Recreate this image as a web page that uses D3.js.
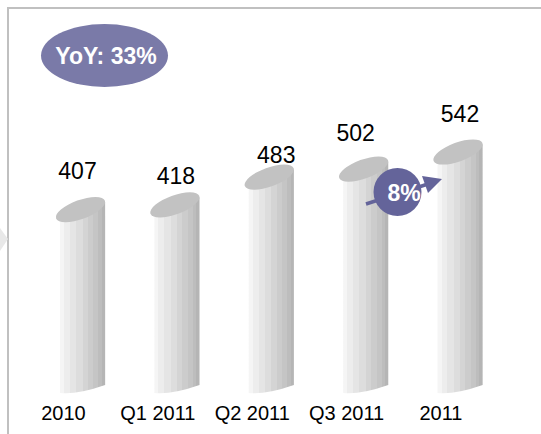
<!DOCTYPE html>
<html>
<head>
<meta charset="utf-8">
<script src="https://cdn.jsdelivr.net/npm/d3@7"></script>
<style>
  html, body { margin: 0; padding: 0; background: #fff; }
  svg { display: block; }
</style>
</head>
<body>
<svg id="chart" width="541" height="434"></svg>
<script>
// ---- data ----
const categories = ["2010", "Q1 2011", "Q2 2011", "Q3 2011", "2011"];
const values = [407, 418, 483, 502, 542];
const valueLabels = ["407", "418", "483", "502", "542"];
const yoyLabel = "YoY: 33%";
const qoqLabel = "8%";

// ---- layout nudges (not data) ----
const labelDx = [-3, 1, 7, -8, 2];
const labelGap = [30.5, 20.5, 14.5, 28, 30];

const svg = d3.select("#chart");
const font = "'Liberation Sans', Arial, Helvetica, sans-serif";

// frame
svg.append("line").attr("x1", 8).attr("y1", 8).attr("x2", 541).attr("y2", 8)
  .attr("stroke", "#c0c0c0").attr("stroke-width", 2);
svg.append("line").attr("x1", 8).attr("y1", 7).attr("x2", 8).attr("y2", 434)
  .attr("stroke", "#c0c0c0").attr("stroke-width", 2);
svg.append("path").attr("d", "M0,228 L8,239 L0,251 Z").attr("fill", "#e8e8e8");

// scales
const x = d3.scalePoint().domain(categories).range([80.5, 458]);
const y = d3.scaleLinear().domain([0, 542]).range([383, 152]);
const baseY = 389;

// gradient for bodies (stepped stripes)
const defs = svg.append("defs");
const stripes = [
  [0.00, "#f5f5f5"], [0.09, "#ededed"], [0.22, "#e5e5e5"], [0.36, "#dddddd"],
  [0.50, "#d4d4d4"], [0.62, "#cccccc"], [0.74, "#c5c5c5"], [0.85, "#bdbdbd"],
  [0.93, "#b5b5b5"], [1.00, "#b5b5b5"]
];
const grad = defs.append("linearGradient").attr("id", "body")
  .attr("x1", "0").attr("x2", "1").attr("y1", "0").attr("y2", "0");
for (let i = 0; i < stripes.length - 1; i++) {
  grad.append("stop").attr("offset", stripes[i][0]).attr("stop-color", stripes[i][1]);
  grad.append("stop").attr("offset", stripes[i + 1][0]).attr("stop-color", stripes[i][1]);
}

// ellipse geometry
const rx = 26, ry = 9.5, ang = -20;
const th = ang * Math.PI / 180;
const hw = Math.sqrt(rx * rx * Math.cos(th) ** 2 + ry * ry * Math.sin(th) ** 2);
const slope = ((rx * rx - ry * ry) * Math.sin(-th) * Math.cos(th) / hw) / hw;

const bars = svg.append("g");
categories.forEach((c, i) => {
  const cx = x(c), cy = y(values[i]);
  const xl = cx - 20.5, xr = cx + hw;
  const p = d3.path();
  p.moveTo(xl, cy + slope * 20.5);
  p.lineTo(xr, cy - slope * hw);
  p.lineTo(xr, baseY - 4);
  p.quadraticCurveTo(cx - 4, baseY + 6, xl, baseY + 4);
  p.closePath();
  bars.append("path").attr("d", p.toString()).attr("fill", "url(#body)");
  bars.append("ellipse").attr("cx", 0).attr("cy", 0).attr("rx", rx).attr("ry", ry)
    .attr("transform", `translate(${cx},${cy}) rotate(${ang})`)
    .attr("fill", "#c2c2c2");
  svg.append("text").attr("x", cx + labelDx[i]).attr("y", cy - labelGap[i])
    .attr("text-anchor", "middle").attr("font-family", font).attr("font-size", 23)
    .attr("fill", "#000").text(valueLabels[i]);
  svg.append("text").attr("x", cx - 17).attr("y", 420)
    .attr("text-anchor", "middle").attr("font-family", font).attr("font-size", 20)
    .attr("fill", "#000").text(c);
});

// YoY bubble
svg.append("ellipse").attr("cx", 104.5).attr("cy", 55.5).attr("rx", 63.5).attr("ry", 31.5)
  .attr("fill", "#7a7aa8");
svg.append("text").attr("x", 106).attr("y", 64).attr("text-anchor", "middle")
  .attr("font-family", font).attr("font-weight", "bold").attr("font-size", 23)
  .attr("fill", "#fff").text(yoyLabel);

// QoQ arrow + circle
const purple = "#64649a";
svg.append("line").attr("x1", 366).attr("y1", 204).attr("x2", 428).attr("y2", 184)
  .attr("stroke", purple).attr("stroke-width", 3.5);
svg.append("path").attr("d", "M422,176 L442,179 L428,193 Z").attr("fill", purple);
svg.append("circle").attr("cx", 397.5).attr("cy", 192).attr("r", 24).attr("fill", purple);
svg.append("text").attr("x", 404).attr("y", 201).attr("text-anchor", "middle")
  .attr("font-family", font).attr("font-weight", "bold").attr("font-size", 23)
  .attr("fill", "#fff").text(qoqLabel);
</script>
</body>
</html>
